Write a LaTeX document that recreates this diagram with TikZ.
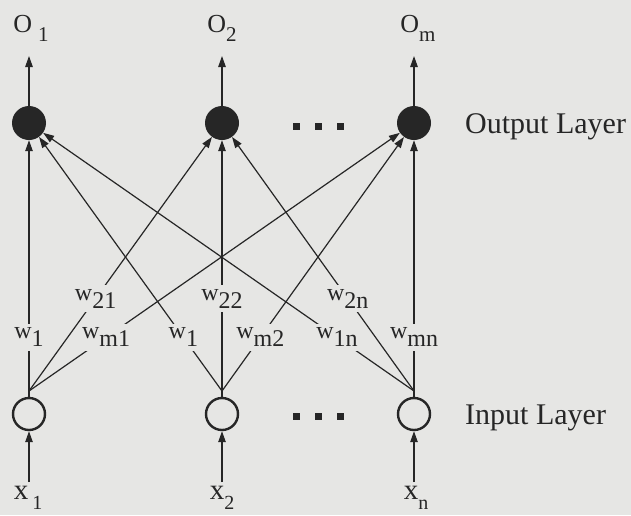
\documentclass[tikz,border=0pt]{standalone}
\usepackage{fontspec}
\setmainfont{Liberation Serif}
\usetikzlibrary{arrows.meta,calc}
\definecolor{bg}{RGB}{230,230,228}
\definecolor{ink}{RGB}{38,38,38}
\newcommand\osub[1]{\raisebox{-9pt}{\fontsize{21}{21}\selectfont #1}}
\newcommand\xsub[1]{\raisebox{-10pt}{\fontsize{20}{20}\selectfont #1}}
\newcommand\wsub[1]{\raisebox{-8pt}{#1}}
\begin{document}
\begin{tikzpicture}[x=1pt,y=-1pt,
  link/.style={draw=ink, line width=1.2pt},
  arr/.style={link, -{Triangle[length=11pt,width=7.5pt]}},
  outn/.style={circle, fill=ink, minimum size=34pt, inner sep=0pt},
  inn/.style={circle, draw=ink, line width=2.4pt, minimum size=32pt, inner sep=0pt},
  olbl/.style={font=\fontsize{26}{26}\selectfont, anchor=base, inner sep=0pt, text=ink},
  xlbl/.style={font=\fontsize{29}{29}\selectfont, anchor=base, inner sep=0pt, text=ink},
  wl/.style={font=\fontsize{24}{24}\selectfont, fill=bg, inner sep=4pt, text=ink},
  layer/.style={font=\fontsize{30}{30}\selectfont, anchor=base west, inner sep=0pt, text=ink},
  sq/.style={fill=ink, minimum size=7pt, inner sep=0pt}]
\fill[bg] (0,0) rectangle (631,515);
\useasboundingbox (0,0) rectangle (631,515);
% nodes
\node[outn] (o1) at (29,123) {};
\node[outn] (o2) at (222,123) {};
\node[outn] (om) at (414,123) {};
\node[inn] (i1) at (29,414) {};
\node[inn] (i2) at (222,414) {};
\node[inn] (in) at (414,414) {};
\coordinate (c1) at (29,391);
\coordinate (c2) at (222,391);
\coordinate (cn) at (414,391);
% outputs
\coordinate (a1) at (29,56);
\coordinate (a2) at (222,56);
\coordinate (am) at (414,56);
\draw[arr] (o1) -- (a1);
\draw[arr] (o2) -- (a2);
\draw[arr] (om) -- (am);
\node[olbl] (t1) at (31,32) {O\hspace{6pt}\osub{1}};
\node[olbl] (t2) at (222,32) {O\osub{2}};
\node[olbl] (tm) at (418,32) {O\osub{m}};
% inputs
\coordinate (b1) at (29,482);
\coordinate (b2) at (222,482);
\coordinate (bn) at (414,482);
\draw[arr] (b1) -- (i1);
\draw[arr] (b2) -- (i2);
\draw[arr] (bn) -- (in);
\node[xlbl] (x1) at (28,499) {x\hspace{4pt}\xsub{1}};
\node[xlbl] (x2) at (222,499) {x\xsub{2}};
\node[xlbl] (xn) at (416,499) {x\xsub{n}};
% connections
\draw[arr] (i1) -- (o1);
\draw[arr] (c1) -- (o2);
\draw[arr] (c1) -- (om);
\draw[arr] (c2) -- (o1);
\draw[arr] (i2) -- (o2);
\draw[arr] (c2) -- (om);
\draw[arr] (cn) -- (o1);
\draw[arr] (cn) -- (o2);
\draw[arr] (in) -- (om);
% weights
\node[wl] (w11) at ($(c1)!0.2!(o1.center)$) {w\wsub{1}};
\node[wl] (w21) at ($(c1)!0.345!(o2.center)$) {w\wsub{21}};
\node[wl] (wm1) at ($(c1)!0.2!(om.center)$) {w\wsub{m1}};
\node[wl] (w12) at ($(c2)!0.2!(o1.center)$) {w\wsub{1}};
\node[wl] (w22) at ($(c2)!0.345!(o2.center)$) {w\wsub{22}};
\node[wl] (wm2) at ($(c2)!0.2!(om.center)$) {w\wsub{m2}};
\node[wl] (w1n) at ($(cn)!0.2!(o1.center)$) {w\wsub{1n}};
\node[wl] (w2n) at ($(cn)!0.345!(o2.center)$) {w\wsub{2n}};
\node[wl] (wmn) at ($(cn)!0.2!(om.center)$) {w\wsub{mn}};
% ellipses
\node[sq] (d1) at (296,126) {};
\node[sq] (d2) at (318,126) {};
\node[sq] (d3) at (340,126) {};
\node[sq] (e1) at (296,416) {};
\node[sq] (e2) at (318,416) {};
\node[sq] (e3) at (340,416) {};
% layer labels
\node[layer] (ol) at (465,133) {Output Layer};
\node[layer] (il) at (465,424) {Input Layer};
\end{tikzpicture}
\end{document}
